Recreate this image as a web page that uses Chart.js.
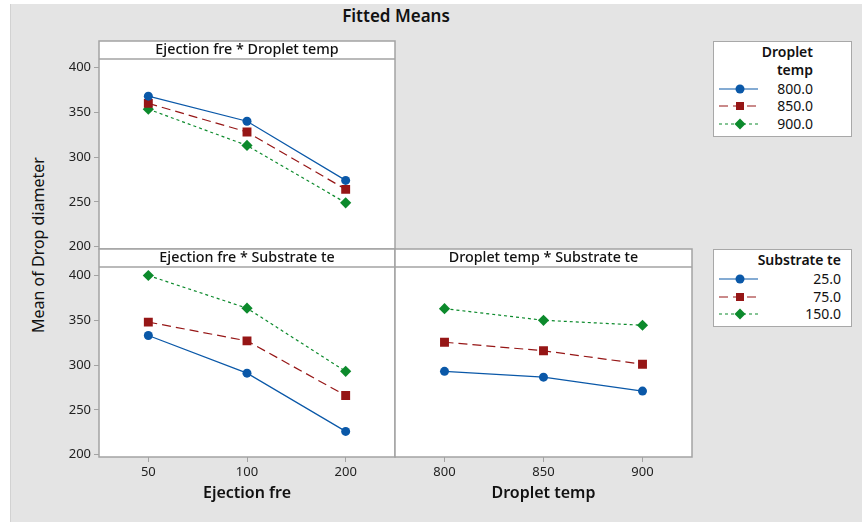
<!DOCTYPE html>
<html>
<head>
<meta charset="utf-8">
<script src="https://cdn.jsdelivr.net/npm/chart.js@4"></script>
<style>
  body { margin: 0; background: #fff; width: 862px; height: 523px; overflow: hidden; font-family: 'Noto Sans', sans-serif; }
  #page { position: absolute; left: 10px; top: 4px; width: 852px; height: 518px; background: #e4e4e4; border-left: 1px solid #d2d2d2; }
  canvas { position: absolute; }
  .title { position: absolute; left: 296px; top: 4px; width: 200px; text-align: center; font-size: 17px; font-weight: 600; color: #111; }
  .ytitle { position: absolute; left: 38px; top: 245px; transform: translate(-50%, -50%) rotate(-90deg); white-space: nowrap; font-size: 16px; color: #111; }
  .legend { position: absolute; left: 713px; width: 137px; background: #fff; border: 1.5px solid #a8a8a8; font-size: 14px; color: #111; }
  .legend .head { position: absolute; text-align: right; font-weight: 600; line-height: 18px; }
  .legend .row { position: absolute; left: 0; width: 100%; height: 18px; }
  .legend .row svg { position: absolute; left: 4px; top: 0; }
  .legend .row span { position: absolute; top: 0; line-height: 18px; }
</style>
</head>
<body>
<div id="page"></div>
<div class="title">Fitted Means</div>
<div class="ytitle">Mean of Drop diameter</div>
<canvas id="p1"></canvas>
<canvas id="p2"></canvas>
<canvas id="p3"></canvas>
<div class="legend" id="leg1" style="top:41px;height:94px"></div>
<div class="legend" id="leg2" style="top:249px;height:76px"></div>
<script>
// categories
const ejectionFre = ['50', '100', '200'];
const dropletTemp = ['800', '850', '900'];
const dropletLevels = ['800.0', '850.0', '900.0'];
const substrateLevels = ['25.0', '75.0', '150.0'];
const yTicks = [200, 250, 300, 350, 400];

// Ejection fre * Droplet temp
const efDt800 = [368, 340, 274];
const efDt850 = [360, 328, 264];
const efDt900 = [353.5, 313, 249];

// Ejection fre * Substrate te
const efSt25 = [333, 291, 226];
const efSt75 = [348, 327, 266];
const efSt150 = [400, 363.5, 293];

// Droplet temp * Substrate te
const dtSt25 = [293, 286.5, 271];
const dtSt75 = [325.5, 316, 301];
const dtSt150 = [363, 350, 344.5];

// Minitab style: blue solid circle, red dashed square, green dotted diamond
const styles = [
  { color: '#0a58a8', dash: [], point: 'circle', radius: 4.5 },
  { color: '#961616', dash: [9, 5], point: 'rect', radius: 6.3 },
  { color: '#0c8a2c', dash: [3, 3], point: 'rectRot', radius: 5.6 }
];

const FONT = "'Noto Sans', sans-serif";
const FRAME = '#a3a3a3';
const HEADER_H = 18;

function makeDatasets(labels, series) {
  return series.map((data, i) => ({
    label: labels[i],
    data,
    borderColor: styles[i].color,
    backgroundColor: styles[i].color,
    borderDash: styles[i].dash,
    borderWidth: 1.2,
    pointStyle: styles[i].point,
    pointRadius: styles[i].radius,
    pointBorderWidth: 0,
    pointHoverRadius: styles[i].radius
  }));
}

// draws plot background, header strip and frame like Minitab panels
const panelFrame = {
  id: 'panelFrame',
  beforeDatasetsDraw(chart) {
    const { ctx, chartArea: a } = chart;
    ctx.save();
    ctx.fillStyle = '#fff';
    ctx.fillRect(a.left, a.top - HEADER_H, a.right - a.left, a.bottom - a.top + HEADER_H);
    ctx.restore();
  },
  afterDraw(chart, args, opts) {
    const { ctx, chartArea: a } = chart;
    ctx.save();
    ctx.strokeStyle = FRAME;
    ctx.lineWidth = 1.5;
    ctx.strokeRect(a.left, a.top - HEADER_H, a.right - a.left, a.bottom - a.top + HEADER_H);
    ctx.beginPath();
    ctx.moveTo(a.left, a.top);
    ctx.lineTo(a.right, a.top);
    ctx.stroke();
    ctx.fillStyle = '#111';
    ctx.font = '500 14.3px ' + FONT;
    ctx.textAlign = 'center';
    ctx.textBaseline = 'middle';
    ctx.fillText(opts.text, (a.left + a.right) / 2, a.top - HEADER_H / 2);
    ctx.restore();
  }
};

// box = plot area in page pixels
function panel(id, box, cats, datasets, cfg) {
  const padL = 60, padT = HEADER_H + 4, padR = 4, padB = 52;
  const showX = !!cfg.xTitle;
  const canvas = document.getElementById(id);
  canvas.width = box.r - box.l + padL + padR;
  canvas.height = box.b - box.t + padT + padB;
  canvas.style.left = (box.l - padL) + 'px';
  canvas.style.top = (box.t - padT) + 'px';

  return new Chart(canvas.getContext('2d'), {
    type: 'line',
    data: { labels: cats, datasets },
    plugins: [panelFrame],
    options: {
      responsive: false,
      animation: false,
      devicePixelRatio: 1,
      layout: {
        autoPadding: false,
        padding: {
          top: padT,
          right: padR,
          left: cfg.showY ? 0 : padL,
          bottom: showX ? 0 : padB
        }
      },
      plugins: {
        legend: { display: false },
        tooltip: { enabled: false },
        panelFrame: { text: cfg.header }
      },
      scales: {
        x: {
          type: 'category',
          offset: true,
          display: showX,
          afterFit: s => { if (showX) s.height = padB; },
          border: { display: false },
          grid: { drawOnChartArea: false, tickLength: 5, color: FRAME },
          ticks: { font: { family: FONT, size: 13 }, color: '#222', padding: 2 },
          title: {
            display: showX,
            text: cfg.xTitle || '',
            font: { family: FONT, size: 16, weight: '600' },
            color: '#111',
            padding: { top: 0, bottom: 6 }
          }
        },
        y: {
          type: 'linear',
          min: 197.4,
          max: 409.5,
          display: cfg.showY,
          afterBuildTicks: s => { s.ticks = yTicks.map(v => ({ value: v })); },
          afterFit: s => { if (cfg.showY) s.width = padL; },
          border: { display: false },
          grid: { drawOnChartArea: false, tickLength: 5, color: FRAME },
          ticks: { font: { family: FONT, size: 13 }, color: '#222', padding: 3 }
        }
      }
    }
  });
}

panel('p1', { l: 99, r: 395, t: 59, b: 249 }, ejectionFre,
  makeDatasets(dropletLevels, [efDt800, efDt850, efDt900]),
  { header: 'Ejection fre * Droplet temp', showY: true });

panel('p2', { l: 99, r: 395, t: 267, b: 457 }, ejectionFre,
  makeDatasets(substrateLevels, [efSt25, efSt75, efSt150]),
  { header: 'Ejection fre * Substrate te', showY: true, xTitle: 'Ejection fre' });

panel('p3', { l: 395, r: 692, t: 267, b: 457 }, dropletTemp,
  makeDatasets(substrateLevels, [dtSt25, dtSt75, dtSt150]),
  { header: 'Droplet temp * Substrate te', showY: false, xTitle: 'Droplet temp' });

// legend symbols in the Minitab style
function symbol(st) {
  const c = st.color;
  let mark;
  if (st.point === 'circle') mark = `<circle cx="22" cy="9" r="4.5" fill="${c}"/>`;
  else if (st.point === 'rect') mark = `<rect x="18" y="5" width="8" height="8" fill="${c}"/>`;
  else mark = `<polygon points="22,3.5 27.5,9 22,14.5 16.5,9" fill="${c}"/>`;
  const dash = st.dash.length ? `stroke-dasharray="${st.dash.join(',')}"` : '';
  return `<svg width="44" height="18"><line x1="1" y1="9" x2="40" y2="9" stroke="${c}" stroke-width="1.2" ${dash}/>${mark}</svg>`;
}

function buildLegend(id, titleLines, labels, firstRow, rightPad) {
  const el = document.getElementById(id);
  let html = `<div class="head" style="top:${firstRow - titleLines.length * 18 - 1}px;right:${rightPad}px">${titleLines.join('<br>')}</div>`;
  labels.forEach((lab, i) => {
    html += `<div class="row" style="top:${firstRow + i * 17.7}px">${symbol(styles[i])}<span style="right:${rightPad}px">${lab}</span></div>`;
  });
  el.innerHTML = html;
}

buildLegend('leg1', ['Droplet', 'temp'], dropletLevels, 37.5, 38);
buildLegend('leg2', ['Substrate te'], substrateLevels, 20, 10);
</script>
</body>
</html>
